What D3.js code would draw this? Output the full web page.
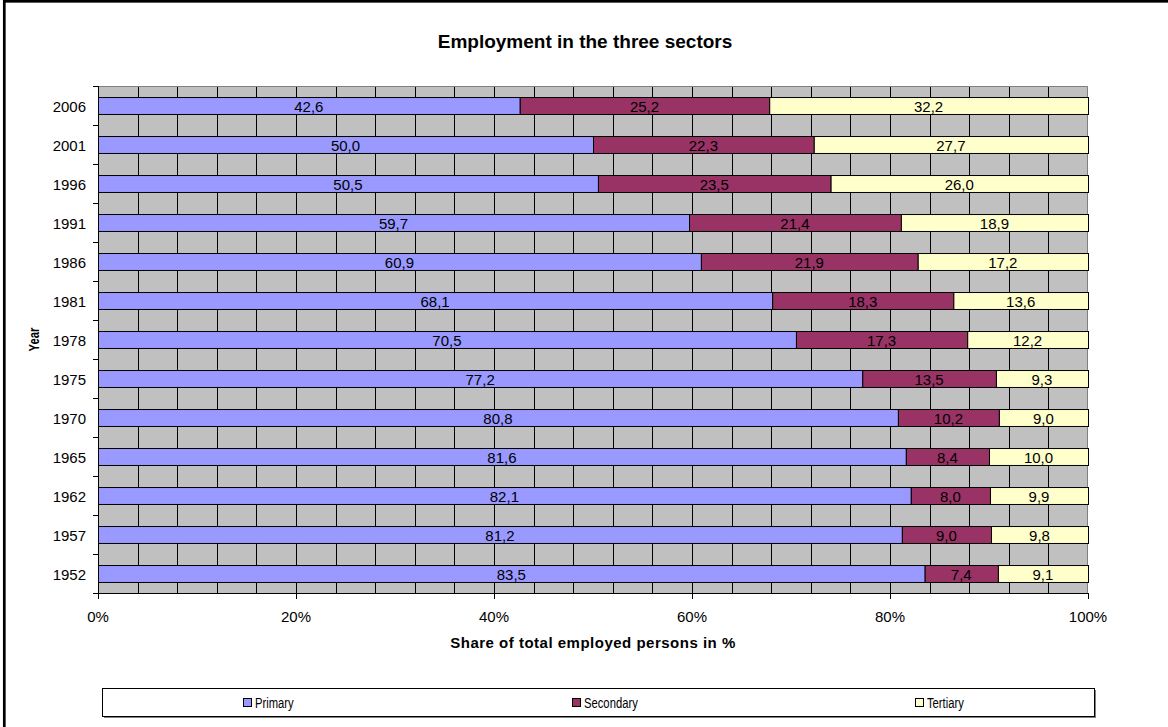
<!DOCTYPE html>
<html>
<head>
<meta charset="utf-8">
<script src="https://cdn.jsdelivr.net/npm/d3@7"></script>
<style>
  html, body { margin: 0; padding: 0; background: #fff; }
  svg { display: block; }
  text { font-family: "Liberation Sans", Arial, sans-serif; fill: #000; }
</style>
</head>
<body>
<svg id="chart" width="1168" height="727"></svg>
<script>
// Census years, top row first
const years = ["2006", "2001", "1996", "1991", "1986", "1981", "1978", "1975", "1970", "1965", "1962", "1957", "1952"];
// Share of employed persons by sector (%)
const primary   = [42.6, 50.0, 50.5, 59.7, 60.9, 68.1, 70.5, 77.2, 80.8, 81.6, 82.1, 81.2, 83.5];
const secondary = [25.2, 22.3, 23.5, 21.4, 21.9, 18.3, 17.3, 13.5, 10.2, 8.4, 8.0, 9.0, 7.4];
const tertiary  = [32.2, 27.7, 26.0, 18.9, 17.2, 13.6, 12.2, 9.3, 9.0, 10.0, 9.9, 9.8, 9.1];
const seriesNames = ["Primary", "Secondary", "Tertiary"];
const seriesColors = ["#9999FF", "#993366", "#FFFFCC"];
const xTicks = [0, 0.2, 0.4, 0.6, 0.8, 1.0];
const gridStep = 0.04;

const svg = d3.select("#chart");
const plot = { left: 98, right: 1088, top: 86, bottom: 593 };

// outer chart frame
svg.append("rect")
  .attr("x", 4.3).attr("y", 1.3)
  .attr("width", 3000).attr("height", 3000)
  .attr("fill", "none").attr("stroke", "#000").attr("stroke-width", 2.7);

// title
svg.append("text")
  .attr("x", 585).attr("y", 48)
  .attr("text-anchor", "middle")
  .style("font-size", "19px").style("font-weight", "bold")
  .text("Employment in the three sectors");

// stacked rows (100% stacked)
const rows = years.map((y, i) => {
  const vals = [primary[i], secondary[i], tertiary[i]];
  const total = d3.sum(vals);
  let acc = 0;
  return {
    year: y,
    segs: vals.map((v, k) => {
      const s = { key: seriesNames[k], value: v, x0: acc / total, x1: (acc + v) / total, color: seriesColors[k] };
      acc += v;
      return s;
    })
  };
});

const x = d3.scaleLinear().domain([0, 1]).range([plot.left, plot.right]);
const pi = 1.3 / 2.3;
const y = d3.scaleBand().domain(years).range([plot.top, plot.bottom])
  .paddingInner(pi).paddingOuter(pi / 2);

// plot background
svg.append("rect")
  .attr("x", plot.left).attr("y", plot.top)
  .attr("width", plot.right - plot.left).attr("height", plot.bottom - plot.top)
  .attr("fill", "#C0C0C0");

// vertical gridlines
const gridVals = d3.range(1, Math.round(1 / gridStep)).map(i => i * gridStep);
svg.append("g").selectAll("line").data(gridVals).join("line")
  .attr("x1", d => Math.round(x(d)) + 0.5).attr("x2", d => Math.round(x(d)) + 0.5)
  .attr("y1", plot.top).attr("y2", plot.bottom)
  .attr("stroke", "#000").attr("stroke-width", 1);

// plot frame (top and right)
svg.append("path")
  .attr("d", `M${plot.left},${plot.top + 0.5}H${plot.right - 0.5}V${plot.bottom}`)
  .attr("fill", "none").attr("stroke", "#808080").attr("stroke-width", 1);

// bars
const fmt = d3.formatLocale({ decimal: ",", thousands: ".", grouping: [3], currency: ["", ""] }).format(".1f");
const rowG = svg.append("g").selectAll("g").data(rows).join("g")
  .attr("transform", d => `translate(0,${y(d.year)})`);

rowG.selectAll("rect").data(d => d.segs).join("rect")
  .attr("x", d => x(d.x0) + 0.5)
  .attr("width", d => x(d.x1) - x(d.x0))
  .attr("y", 0.5)
  .attr("height", y.bandwidth())
  .attr("fill", d => d.color)
  .attr("stroke", "#000").attr("stroke-width", 1);

rowG.selectAll("text").data(d => d.segs).join("text")
  .attr("x", d => (x(d.x0) + x(d.x1)) / 2)
  .attr("y", y.bandwidth() / 2 + 1)
  .attr("dy", "0.35em")
  .attr("text-anchor", "middle")
  .style("font-size", "15px")
  .text(d => fmt(d.value));

// y axis
const yAxis = svg.append("g");
yAxis.append("line")
  .attr("x1", plot.left + 0.5).attr("x2", plot.left + 0.5)
  .attr("y1", plot.top).attr("y2", plot.bottom + 0.5)
  .attr("stroke", "#000");
yAxis.selectAll(".tick").data(d3.range(years.length + 1)).join("line")
  .attr("x1", plot.left - 5).attr("x2", plot.left)
  .attr("y1", i => Math.round(plot.top + i * y.step()) + 0.5)
  .attr("y2", i => Math.round(plot.top + i * y.step()) + 0.5)
  .attr("stroke", "#000");
yAxis.selectAll("text").data(years).join("text")
  .attr("x", 86)
  .attr("y", d => y(d) + y.bandwidth() / 2 + 1)
  .attr("dy", "0.35em")
  .attr("text-anchor", "end")
  .style("font-size", "15px")
  .text(d => d);

// x axis
const xAxis = svg.append("g");
xAxis.append("line")
  .attr("x1", plot.left).attr("x2", plot.right)
  .attr("y1", plot.bottom + 0.5).attr("y2", plot.bottom + 0.5)
  .attr("stroke", "#000");
xAxis.selectAll("line.t").data(xTicks).join("line")
  .attr("class", "t")
  .attr("x1", d => Math.round(x(d)) + 0.5).attr("x2", d => Math.round(x(d)) + 0.5)
  .attr("y1", plot.bottom).attr("y2", plot.bottom + 6)
  .attr("stroke", "#000");
xAxis.selectAll("text").data(xTicks).join("text")
  .attr("x", d => x(d))
  .attr("y", 622)
  .attr("text-anchor", "middle")
  .style("font-size", "15px")
  .text(d => d3.format(".0%")(d));

// axis titles
svg.append("text")
  .attr("x", (plot.left + plot.right) / 2).attr("y", 648)
  .attr("text-anchor", "middle")
  .style("font-size", "15px").style("font-weight", "bold").style("letter-spacing", "0.5px")
  .text("Share of total employed persons in %");

// condensed label style (narrow glyphs via horizontal squeeze)
svg.append("text")
  .attr("transform", `translate(39,${(plot.top + plot.bottom) / 2}) rotate(-90) scale(0.75,1)`)
  .attr("text-anchor", "middle")
  .style("font-size", "15px").style("font-weight", "bold")
  .text("Year");

// legend
const lg = { x: 102, y: 688, w: 992, h: 28 };
svg.append("rect")
  .attr("x", lg.x + 2).attr("y", lg.y + 2).attr("width", lg.w).attr("height", lg.h)
  .attr("fill", "#808080");
svg.append("rect")
  .attr("x", lg.x + 0.5).attr("y", lg.y + 0.5).attr("width", lg.w).attr("height", lg.h)
  .attr("fill", "#fff").attr("stroke", "#000");
const legendX = [243, 572, 915];
const li = svg.append("g").selectAll("g").data(seriesNames).join("g")
  .attr("transform", (d, i) => `translate(${legendX[i]},${lg.y + lg.h / 2})`);
li.append("rect")
  .attr("x", 0.5).attr("y", -3.5).attr("width", 8).attr("height", 8)
  .attr("fill", (d, i) => seriesColors[i]).attr("stroke", "#000");
li.append("text")
  .attr("transform", "translate(12,1) scale(0.75,1)")
  .attr("dy", "0.35em")
  .style("font-size", "15px")
  .text(d => d);
</script>
</body>
</html>
